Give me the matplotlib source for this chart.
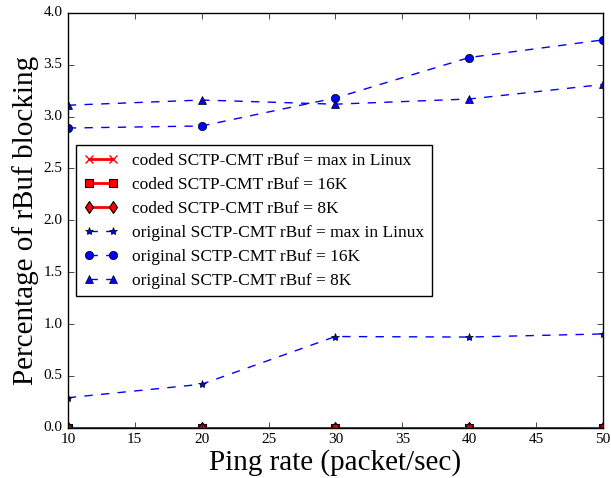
import matplotlib
matplotlib.use("Agg")
import matplotlib.pyplot as plt

plt.style.use('classic')
plt.rcParams['font.family'] = ['Liberation Serif', 'DejaVu Serif']
plt.rcParams['mathtext.fontset'] = 'stix'

x = [10, 20, 30, 40, 50]
coded_max = [0, 0, 0, 0, 0]
coded_16k = [0, 0, 0, 0, 0]
coded_8k = [0, 0, 0, 0, 0]
orig_max = [0.29, 0.42, 0.88, 0.875, 0.905]
orig_16k = [2.89, 2.91, 3.18, 3.57, 3.74]
orig_8k = [3.11, 3.16, 3.12, 3.17, 3.31]

labels = [
    'coded SCTP-CMT rBuf = max in Linux',
    'coded SCTP-CMT rBuf = 16K',
    'coded SCTP-CMT rBuf = 8K',
    'original SCTP-CMT rBuf = max in Linux',
    'original SCTP-CMT rBuf = 16K',
    'original SCTP-CMT rBuf = 8K',
]

fig = plt.figure(figsize=(6.11, 4.78), dpi=100, facecolor='white')
ax = fig.add_axes([0.111, 0.105, 0.876, 0.868])
ax.set_facecolor('white')

ax.plot(x, coded_max, color='r', marker='x', ms=6, mew=1, lw=2, label=labels[0])
ax.plot(x, coded_16k, color='r', marker='s', ms=6, mec='k', mew=0.8, lw=2, label=labels[1])
ax.plot(x, coded_8k, color='r', marker='d', ms=6, mec='k', mew=0.8, lw=2, label=labels[2])
ax.plot(x, orig_max, color='b', marker='*', ms=6, mec='k', mew=0.5, lw=1, ls='--', label=labels[3])
ax.plot(x, orig_16k, color='b', marker='o', ms=6, mec='k', mew=0.5, lw=1, ls='--', label=labels[4])
ax.plot(x, orig_8k, color='b', marker='^', ms=6, mec='k', mew=0.5, lw=1, ls='--', label=labels[5])

ax.set_xlim(10, 50)
ax.set_ylim(0, 4.0)
ax.set_xticks(range(10, 51, 5))
ax.set_yticks([0.0, 0.5, 1.0, 1.5, 2.0, 2.5, 3.0, 3.5, 4.0])
ax.tick_params(labelsize=11, direction='in')
ax.set_xlabel('Ping rate (packet/sec)', fontsize=21, labelpad=2)
ax.set_ylabel('Percentage of rBuf blocking', fontsize=21, labelpad=3)

leg = ax.legend(loc='upper left', bbox_to_anchor=(0.015, 0.682), borderaxespad=0,
                fontsize=12.5, numpoints=2, frameon=True, fancybox=False,
                borderpad=0.45, labelspacing=0.45, handlelength=2.0,
                handletextpad=0.8)
leg.get_frame().set_edgecolor('black')

fig.savefig('out.png', dpi=100, facecolor='white')
